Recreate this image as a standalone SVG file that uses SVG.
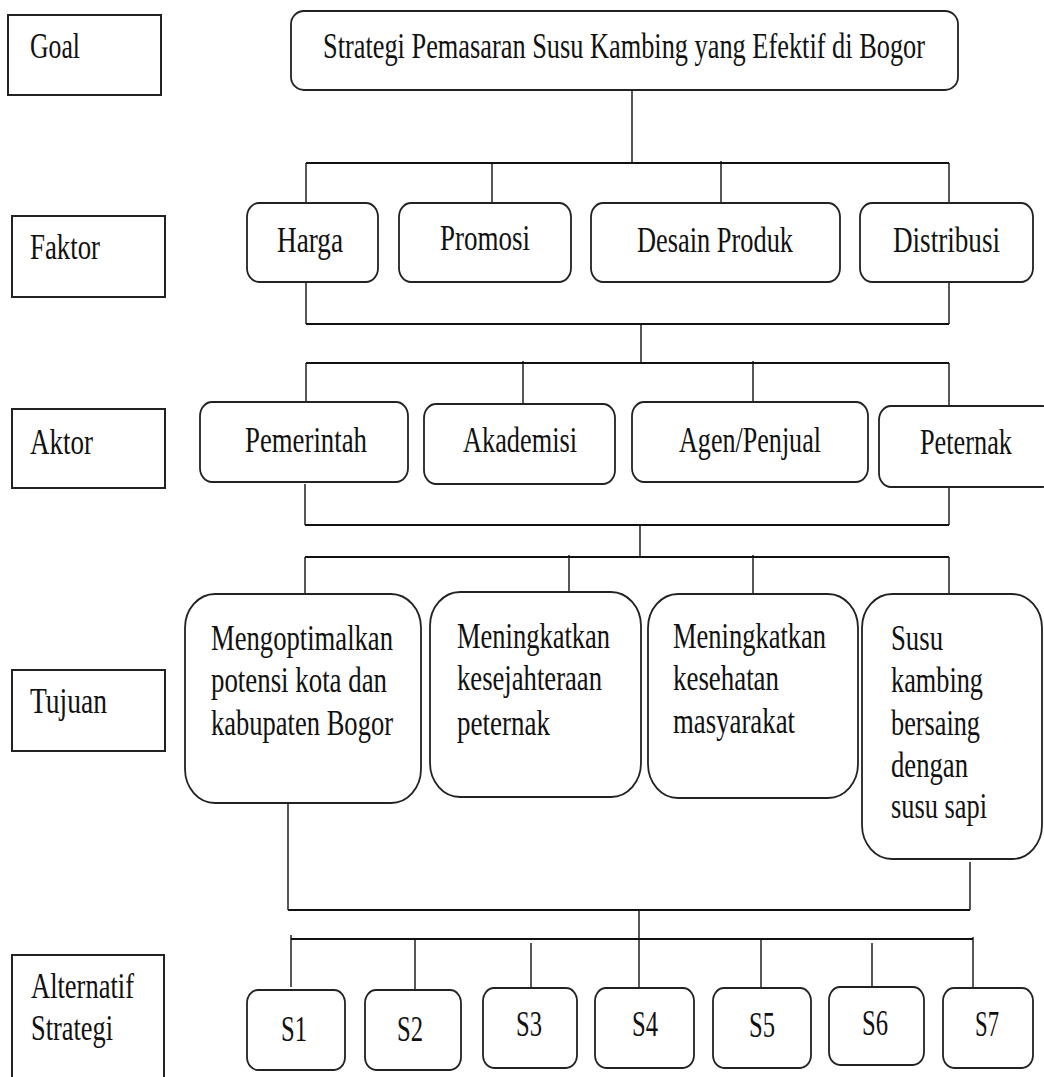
<svg xmlns="http://www.w3.org/2000/svg" width="1044" height="1077" viewBox="0 0 1044 1077">
<style>
text{font-family:"Liberation Serif","Times New Roman",serif;font-size:35px;fill:#111}
.m{text-anchor:middle}
.lbl{fill:#fff;stroke:#222;stroke-width:2}
.nd{fill:#fff;stroke:#222;stroke-width:1.8}
.c line{stroke:#111;stroke-width:1.4}
.c .bus{stroke-width:2.2}
</style>
<rect width="1044" height="1077" fill="#fff"/>
<g id="level-labels">
<g id="lbl-goal"><rect class="lbl" x="8" y="15" width="153" height="80"/><text x="30" y="58" textLength="50" lengthAdjust="spacingAndGlyphs">Goal</text></g>
<g id="lbl-faktor"><rect class="lbl" x="12" y="216" width="153" height="81"/><text x="30" y="259" textLength="70" lengthAdjust="spacingAndGlyphs">Faktor</text></g>
<g id="lbl-aktor"><rect class="lbl" x="12" y="409" width="153" height="79"/><text x="30" y="454" textLength="63" lengthAdjust="spacingAndGlyphs">Aktor</text></g>
<g id="lbl-tujuan"><rect class="lbl" x="12" y="670" width="153" height="81"/><text x="30" y="713" textLength="77" lengthAdjust="spacingAndGlyphs">Tujuan</text></g>
<g id="lbl-alternatif"><rect class="lbl" x="12" y="955" width="152" height="130"/><text x="31" y="998" textLength="103" lengthAdjust="spacingAndGlyphs">Alternatif</text><text x="31" y="1040" textLength="82" lengthAdjust="spacingAndGlyphs">Strategi</text></g>
</g>
<g id="connectors" class="c">
<line x1="632" y1="90" x2="632" y2="163"/>
<line class="bus" x1="306" y1="163" x2="949" y2="163"/>
<line x1="306" y1="163" x2="306" y2="203"/>
<line x1="492" y1="163" x2="492" y2="203"/>
<line x1="721" y1="161" x2="721" y2="203"/>
<line x1="949" y1="163" x2="949" y2="203"/>
<line x1="306" y1="282" x2="306" y2="324"/>
<line x1="949" y1="282" x2="949" y2="324"/>
<line class="bus" x1="306" y1="324" x2="949" y2="324"/>
<line x1="641" y1="324" x2="641" y2="363"/>
<line class="bus" x1="306" y1="363" x2="949" y2="363"/>
<line x1="306" y1="363" x2="306" y2="402"/>
<line x1="523" y1="361" x2="523" y2="404"/>
<line x1="753" y1="361" x2="753" y2="402"/>
<line x1="949" y1="363" x2="949" y2="406"/>
<line x1="305" y1="484" x2="305" y2="525"/>
<line x1="949" y1="487" x2="949" y2="525"/>
<line class="bus" x1="305" y1="525" x2="949" y2="525"/>
<line x1="640" y1="525" x2="640" y2="557"/>
<line class="bus" x1="305" y1="557" x2="949" y2="557"/>
<line x1="305" y1="557" x2="305" y2="594"/>
<line x1="569" y1="555" x2="569" y2="592"/>
<line x1="753" y1="555" x2="753" y2="594"/>
<line x1="949" y1="557" x2="949" y2="594"/>
<line x1="288" y1="803" x2="288" y2="910"/>
<line x1="970" y1="862" x2="970" y2="910"/>
<line class="bus" x1="288" y1="910" x2="970" y2="910"/>
<line x1="639" y1="910" x2="639" y2="988"/>
<line class="bus" x1="291" y1="939" x2="973" y2="939"/>
<line x1="291" y1="935" x2="291" y2="987"/>
<line x1="415" y1="939" x2="415" y2="990"/>
<line x1="531" y1="943" x2="531" y2="988"/>
<line x1="761" y1="939" x2="761" y2="988"/>
<line x1="872" y1="943" x2="872" y2="987"/>
<line x1="973" y1="937" x2="973" y2="988"/>
</g>
<g id="goal"><rect class="nd" x="291" y="11" width="667" height="79" rx="13" ry="13"/><text transform="translate(323,58) scale(0.7525,1)" x="0" y="0" textLength="800" lengthAdjust="spacingAndGlyphs">Strategi Pemasaran Susu Kambing yang Efektif di Bogor</text></g>
<g id="f-harga"><rect class="nd" x="247" y="203" width="131" height="79" rx="12" ry="14"/><text x="277" y="252" textLength="66" lengthAdjust="spacingAndGlyphs">Harga</text></g>
<g id="f-promosi"><rect class="nd" x="399" y="203" width="172" height="79" rx="12" ry="14"/><text x="440" y="250" textLength="90" lengthAdjust="spacingAndGlyphs">Promosi</text></g>
<g id="f-desain"><rect class="nd" x="591" y="203" width="249" height="79" rx="12" ry="14"/><text x="637" y="252" textLength="156" lengthAdjust="spacingAndGlyphs">Desain Produk</text></g>
<g id="f-distribusi"><rect class="nd" x="860" y="203" width="173" height="79" rx="12" ry="14"/><text x="893" y="252" textLength="107" lengthAdjust="spacingAndGlyphs">Distribusi</text></g>
<g id="a-pemerintah"><rect class="nd" x="200" y="402" width="208" height="80" rx="12" ry="14"/><text x="245" y="452" textLength="122" lengthAdjust="spacingAndGlyphs">Pemerintah</text></g>
<g id="a-akademisi"><rect class="nd" x="424" y="404" width="191" height="80" rx="12" ry="14"/><text x="463" y="452" textLength="114" lengthAdjust="spacingAndGlyphs">Akademisi</text></g>
<g id="a-agen"><rect class="nd" x="632" y="402" width="236" height="80" rx="12" ry="14"/><text x="679" y="452" textLength="142" lengthAdjust="spacingAndGlyphs">Agen/Penjual</text></g>
<g id="a-peternak"><rect class="nd" x="879" y="406" width="175" height="81" rx="12" ry="14"/><text x="920" y="454" textLength="92" lengthAdjust="spacingAndGlyphs">Peternak</text></g>
<g id="t-1"><rect class="nd" x="185" y="594" width="236" height="209" rx="30" ry="34"/>
<text x="211" y="650" textLength="182" lengthAdjust="spacingAndGlyphs">Mengoptimalkan</text>
<text x="211" y="692" textLength="176" lengthAdjust="spacingAndGlyphs">potensi kota dan</text>
<text x="211" y="735" textLength="182" lengthAdjust="spacingAndGlyphs">kabupaten Bogor</text></g>
<g id="t-2"><rect class="nd" x="430" y="592" width="211" height="205" rx="30" ry="34"/>
<text x="457" y="648" textLength="153" lengthAdjust="spacingAndGlyphs">Meningkatkan</text>
<text x="457" y="690" textLength="145" lengthAdjust="spacingAndGlyphs">kesejahteraan</text>
<text x="457" y="735" textLength="93" lengthAdjust="spacingAndGlyphs">peternak</text></g>
<g id="t-3"><rect class="nd" x="648" y="594" width="210" height="204" rx="30" ry="34"/>
<text x="673" y="648" textLength="153" lengthAdjust="spacingAndGlyphs">Meningkatkan</text>
<text x="673" y="690" textLength="106" lengthAdjust="spacingAndGlyphs">kesehatan</text>
<text x="673" y="733" textLength="122" lengthAdjust="spacingAndGlyphs">masyarakat</text></g>
<g id="t-4"><rect class="nd" x="862" y="594" width="180" height="265" rx="30" ry="34"/>
<text x="891" y="650" textLength="52" lengthAdjust="spacingAndGlyphs">Susu</text>
<text x="891" y="692" textLength="92" lengthAdjust="spacingAndGlyphs">kambing</text>
<text x="891" y="735" textLength="89" lengthAdjust="spacingAndGlyphs">bersaing</text>
<text x="891" y="777" textLength="77" lengthAdjust="spacingAndGlyphs">dengan</text>
<text x="891" y="818" textLength="96" lengthAdjust="spacingAndGlyphs">susu sapi</text></g>
<g id="s1"><rect class="nd" x="247" y="990" width="98" height="80" rx="11" ry="13"/><text class="m" x="294" y="1041" textLength="26" lengthAdjust="spacingAndGlyphs">S1</text></g>
<g id="s2"><rect class="nd" x="365" y="990" width="96" height="80" rx="11" ry="13"/><text class="m" x="410" y="1041" textLength="26" lengthAdjust="spacingAndGlyphs">S2</text></g>
<g id="s3"><rect class="nd" x="483" y="988" width="94" height="80" rx="11" ry="13"/><text class="m" x="529" y="1036" textLength="26" lengthAdjust="spacingAndGlyphs">S3</text></g>
<g id="s4"><rect class="nd" x="595" y="988" width="99" height="80" rx="11" ry="13"/><text class="m" x="645" y="1036" textLength="26" lengthAdjust="spacingAndGlyphs">S4</text></g>
<g id="s5"><rect class="nd" x="713" y="988" width="98" height="80" rx="11" ry="13"/><text class="m" x="762" y="1037" textLength="26" lengthAdjust="spacingAndGlyphs">S5</text></g>
<g id="s6"><rect class="nd" x="829" y="987" width="95" height="78" rx="11" ry="13"/><text class="m" x="875" y="1035" textLength="26" lengthAdjust="spacingAndGlyphs">S6</text></g>
<g id="s7"><rect class="nd" x="943" y="988" width="90" height="80" rx="11" ry="13"/><text class="m" x="987" y="1036" textLength="24" lengthAdjust="spacingAndGlyphs">S7</text></g>
</svg>
